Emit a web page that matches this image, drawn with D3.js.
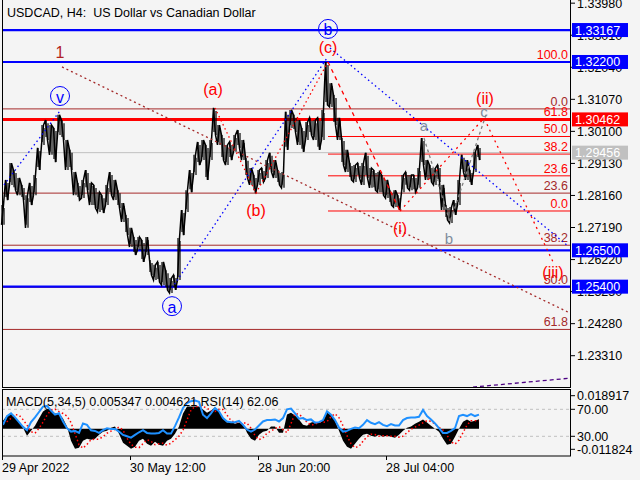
<!DOCTYPE html>
<html><head><meta charset="utf-8">
<script src="https://cdn.jsdelivr.net/npm/d3@7"></script>
<style>
body{margin:0;background:#f4f4f4}
svg{display:block}
text{font-family:"Liberation Sans",Arial,sans-serif;white-space:pre}
</style>
</head><body>
<svg id="c" width="640" height="480"></svg>
<script>
// ---------- DATA ----------
const title = "USDCAD, H4:  US Dollar vs Canadian Dollar";
const indTitle = "MACD(5,34,5) 0.005347 0.004621 RSI(14) 62.06";
// one entry every 4 H4 bars
const highs = [1.2787,1.2863,1.2914,1.2893,1.2869,1.2848,1.2817,1.2854,1.2878,1.2960,
1.3029,1.3044,1.3029,1.3020,1.3060,1.3044,1.2984,1.2954,1.2887,1.2854,
1.2863,1.2893,1.2854,1.2848,1.2826,1.2817,1.2848,1.2887,1.2863,1.2832,
1.2793,1.2757,1.2718,1.2690,1.2690,1.2681,1.2690,1.2621,1.2606,1.2615,
1.2615,1.2590,1.2566,1.2575,1.2687,1.2772,1.2832,1.2893,1.2939,1.2978,
1.2984,1.2969,1.2984,1.3081,1.3029,1.2999,1.2969,1.2978,1.2999,1.3014,
1.2984,1.2930,1.2899,1.2878,1.2893,1.2899,1.2923,1.2945,1.2923,1.2893,
1.2887,1.3069,1.3075,1.3060,1.3044,1.3020,1.3038,1.3051,1.3044,1.3051,
1.3075,1.3220,1.3156,1.3120,1.3051,1.2990,1.2954,1.2914,1.2908,1.2914,
1.2914,1.2945,1.2899,1.2893,1.2887,1.2878,1.2863,1.2832,1.2832,1.2817,
1.2878,1.2887,1.2878,1.2878,1.2899,1.2990,1.2923,1.2908,1.2899,1.2908,
1.2848,1.2787,1.2781,1.2802,1.2863,1.2939,1.2923,1.2893,1.2948,1.2969];
const lows = [1.2727,1.2802,1.2848,1.2832,1.2817,1.2802,1.2718,1.2787,1.2817,1.2893,
1.2969,1.2984,1.2939,1.2917,1.2999,1.2984,1.2893,1.2893,1.2817,1.2802,
1.2808,1.2832,1.2787,1.2778,1.2766,1.2763,1.2787,1.2817,1.2802,1.2778,
1.2736,1.2696,1.2660,1.2636,1.2651,1.2615,1.2636,1.2575,1.2560,1.2554,
1.2545,1.2530,1.2521,1.2530,1.2560,1.2696,1.2766,1.2826,1.2878,1.2908,
1.2923,1.2863,1.2923,1.2999,1.2969,1.2923,1.2908,1.2923,1.2948,1.2960,
1.2923,1.2869,1.2848,1.2823,1.2848,1.2857,1.2869,1.2887,1.2869,1.2848,
1.2839,1.2954,1.3020,1.3008,1.2969,1.2948,1.2984,1.2999,1.2984,1.2954,
1.2984,1.3090,1.3084,1.3029,1.2984,1.2908,1.2887,1.2863,1.2857,1.2869,
1.2848,1.2869,1.2839,1.2832,1.2826,1.2817,1.2808,1.2787,1.2781,1.2772,
1.2826,1.2839,1.2832,1.2826,1.2839,1.2908,1.2863,1.2857,1.2848,1.2857,
1.2772,1.2742,1.2733,1.2757,1.2787,1.2887,1.2863,1.2848,1.2887,1.2923];
const macd = [0.0046,0.0075,0.0087,0.0069,0.0035,0.0006,-0.0040,-0.0012,0.0017,0.0058,
0.0098,0.0115,0.0110,0.0087,0.0087,0.0058,0.0012,-0.0069,-0.0115,-0.0110,
-0.0069,-0.0058,-0.0063,-0.0058,-0.0035,-0.0017,-0.0012,0.0006,0.0012,-0.0029,
-0.0081,-0.0098,-0.0115,-0.0104,-0.0069,-0.0058,-0.0087,-0.0098,-0.0075,-0.0092,
-0.0098,-0.0069,-0.0058,-0.0029,0.0012,0.0087,0.0127,0.0127,0.0127,0.0127,
0.0110,0.0092,0.0104,0.0121,0.0098,0.0058,0.0035,0.0040,0.0029,0.0035,
0.0029,-0.0023,-0.0058,-0.0069,-0.0035,-0.0017,-0.0012,0.0012,0.0012,-0.0023,
-0.0023,0.0081,0.0092,0.0075,0.0052,0.0023,0.0017,0.0035,0.0040,0.0035,
0.0046,0.0092,0.0081,0.0046,-0.0012,-0.0069,-0.0104,-0.0115,-0.0087,-0.0058,
-0.0035,-0.0029,-0.0040,-0.0046,-0.0035,-0.0046,-0.0040,-0.0046,-0.0052,-0.0035,
-0.0012,0.0006,0.0012,0.0029,0.0040,0.0052,0.0035,0.0017,0.0000,-0.0017,
-0.0058,-0.0092,-0.0087,-0.0046,0.0000,0.0040,0.0052,0.0040,0.0046,0.005347];
const signal = [0.0030,0.0040,0.0060,0.0081,0.0078,0.0052,0.0020,-0.0017,-0.0026,0.0002,
0.0037,0.0078,0.0106,0.0112,0.0098,0.0087,0.0072,0.0035,-0.0028,-0.0092,
-0.0112,-0.0090,-0.0063,-0.0060,-0.0060,-0.0046,-0.0026,-0.0014,-0.0003,0.0009,
-0.0008,-0.0055,-0.0090,-0.0106,-0.0109,-0.0086,-0.0063,-0.0072,-0.0092,-0.0086,
-0.0083,-0.0095,-0.0083,-0.0063,-0.0043,-0.0008,0.0050,0.0107,0.0127,0.0127,
0.0127,0.0118,0.0101,0.0098,0.0112,0.0110,0.0078,0.0046,0.0037,0.0034,
0.0032,0.0032,0.0003,-0.0040,-0.0063,-0.0052,-0.0026,-0.0014,0.0000,0.0012,
-0.0005,-0.0023,0.0029,0.0086,0.0083,0.0063,0.0037,0.0020,0.0026,0.0037,
0.0037,0.0040,0.0069,0.0086,0.0063,0.0017,-0.0040,-0.0086,-0.0109,-0.0101,
-0.0072,-0.0046,-0.0032,-0.0034,-0.0043,-0.0040,-0.0040,-0.0043,-0.0043,-0.0049,
-0.0043,-0.0023,-0.0003,0.0009,0.0020,0.0034,0.0046,0.0043,0.0026,0.0008,
-0.0008,-0.0037,-0.0075,-0.0089,-0.0066,-0.0023,0.0020,0.0046,0.0046,0.004621];
const rsi = [47,60,64,58,51,44,39,51,58,66,74,75,68,62,64,52,42,37,38,35,
49,47,39,38,35,39,42,41,41,37,32,30,28,32,36,39,35,34,34,35,
39,34,34,45,58,72,79,82,83,81,62,57,64,72,67,57,52,51,51,53,
47,40,37,40,46,52,54,54,55,52,57,70,71,64,56,57,54,55,50,51,
54,67,62,54,43,37,38,41,43,42,47,54,50,48,51,47,45,48,46,46,
54,57,58,58,59,69,60,55,49,42,35,35,38,42,60,62,60,63,60,62.06];

const priceTicks = [1.33980,1.33010,1.32040,1.31070,1.30100,1.29130,1.28160,1.27190,1.26220,1.25250,1.24280,1.23310];
const dateLabels = ["29 Apr 2022","30 May 12:00","28 Jun 20:00","28 Jul 04:00"];
const dateBars = [0,128,256,384];

const blueLevels = [1.33167,1.32200,1.26500,1.25400];
const redLevel = 1.30462;
const lastPrice = 1.29456;

const fibLevels = [0,23.6,38.2,50,61.8,100];
const fibA = {p0:1.2769, p100:1.3220, bar:326};
const fibBLevels = [0,23.6,38.2,50,61.8];
const fibB = {p0:1.3078, p100:1.1998};

const macdLabels = [0.018917,-0.011824];
const rsiLevels = [70,30];

// wave lines: [bar, price]
const blueDot1 = [[2,1.2848],[58,1.3072]];
const blueDot2 = [[170,1.2536],[325,1.3232]];
const blueDot3 = [[328,1.3262],[566,1.2663]];
const redABC = [[213,1.3081],[254,1.2823],[326,1.3220]];
const redCI = [[326,1.3220],[398,1.2769]];
const redIII = [[398,1.2769],[482,1.3050],[551,1.2615]];
const grayABC = [[422,1.2990],[448,1.2736],[484,1.3060]];
const brownLine = [[60,1.3205],[566,1.2463]];
const purpleLine = [[471,1.2236],[568,1.2263]];

const redLabels = [["(a)",211,1.3138],["(b)",254,1.2772],["(c)",326,1.3265],["(i)",398,1.2717],["(ii)",483,1.3108],["(iii)",551,1.2584]];
const circLabels = [["v",58,1.3117],["b",326,1.3320],["a",170,1.2481]];
const grayLabels = [["a",422,1.3029],["b",447,1.2687],["c",482,1.3069]];
const oneLabel = ["1",58,1.3250];

// ---------- SCALES ----------
const svg = d3.select("#c");
const L=2, R=570, T=0, B=387;
const x = d3.scaleLinear().domain([0,568]).range([L,R]);
const y = d3.scaleLinear().domain([1.22363,1.34076]).range([B,T]);
const ym = d3.scaleLinear().domain([-0.011824,0.018917]).range([449.3,395.7]);
const yr = d3.scaleLinear().domain([30,70]).range([436.3,409.3]);
const barOf = i => 1+4*i;

const BROWN="#a52a2a", RED="#ff0000", BLUE="#0000ff";

svg.append("rect").attr("width",640).attr("height",480).attr("fill","#f4f4f4");

const main = svg.append("g");
const line = d3.line().x(d=>x(d[0])).y(d=>y(d[1]));

// fib B (brown, full width)
fibBLevels.forEach(l=>{
  const p = fibB.p0 - (fibB.p0-fibB.p100)*l/100;
  main.append("line").attr("x1",L).attr("x2",R).attr("y1",y(p)).attr("y2",y(p)).attr("stroke",BROWN).attr("stroke-width",1);
  main.append("text").attr("x",568).attr("y",y(p)-3).attr("text-anchor","end").attr("font-size",12.5).attr("fill",BROWN).text(l.toFixed(1));
});
// fib A (red, from bar)
fibLevels.forEach(l=>{
  const p = fibA.p0 + (fibA.p100-fibA.p0)*l/100;
  main.append("line").attr("x1",x(fibA.bar)).attr("x2",R).attr("y1",y(p)).attr("y2",y(p)).attr("stroke",RED).attr("stroke-width",1);
  main.append("text").attr("x",568).attr("y",y(p)-3).attr("text-anchor","end").attr("font-size",12.5).attr("fill",RED).text(l.toFixed(1));
});

// current price line
main.append("line").attr("x1",L).attr("x2",R).attr("y1",y(lastPrice)).attr("y2",y(lastPrice)).attr("stroke","#c0c0c0");
// horizontal levels
blueLevels.forEach(p=>main.append("line").attr("x1",L).attr("x2",R).attr("y1",y(p)).attr("y2",y(p)).attr("stroke",BLUE).attr("stroke-width",2.2));
main.append("line").attr("x1",L).attr("x2",R).attr("y1",y(redLevel)).attr("y2",y(redLevel)).attr("stroke",RED).attr("stroke-width",3);

// price bars: vertical high-low strokes plus a zigzag path
highs.forEach((h,i)=>{
  [-1,1].forEach(o=>main.append("line").attr("x1",x(barOf(i)+o)).attr("x2",x(barOf(i)+o))
    .attr("y1",y(h)+(o<0?0:3)).attr("y2",y(lows[i])-(o<0?3:0)).attr("stroke","#000").attr("stroke-width",1.2));
});
const pts=[];
highs.forEach((h,i)=>{
  const b=barOf(i);
  if(i%2===0){pts.push([b-1.5,lows[i]]);pts.push([b+0.5,h]);}
  else{pts.push([b-1.5,h]);pts.push([b+0.5,lows[i]]);}
});
main.append("path").attr("d",line(pts)).attr("fill","none").attr("stroke","#000").attr("stroke-width",1.5);

// wave lines
const dl=(d,c,dash,w)=>main.append("path").attr("d",line(d)).attr("fill","none").attr("stroke",c).attr("stroke-width",w||1.3).attr("stroke-dasharray",dash);
dl(brownLine,BROWN,"2,3");
dl(blueDot1,BLUE,"1.5,3");
dl(blueDot2,BLUE,"1.5,3");
dl(blueDot3,BLUE,"1.5,3");
dl(redABC,RED,"1.5,3");
dl(redCI,RED,"4,4");
dl(redIII,RED,"2,4");
dl(grayABC,"#808080","3,3");
dl(purpleLine,"#4b0082","4,3");

// labels
main.append("text").attr("x",x(oneLabel[1])).attr("y",y(oneLabel[2])).attr("text-anchor","middle").attr("dominant-baseline","central").attr("font-size",16).attr("fill","#b22222").text(oneLabel[0]);
redLabels.forEach(d=>main.append("text").attr("x",x(d[1])).attr("y",y(d[2])).attr("text-anchor","middle").attr("dominant-baseline","central").attr("font-size",16).attr("fill",RED).text(d[0]));
circLabels.forEach(d=>{
  main.append("circle").attr("cx",x(d[1])).attr("cy",y(d[2])).attr("r",9.5).attr("fill","none").attr("stroke",BLUE).attr("stroke-width",1);
  main.append("text").attr("x",x(d[1])).attr("y",y(d[2])+1).attr("text-anchor","middle").attr("dominant-baseline","central").attr("font-size",16).attr("fill",BLUE).text(d[0]);
});
grayLabels.forEach(d=>main.append("text").attr("x",x(d[1])).attr("y",y(d[2])).attr("text-anchor","middle").attr("dominant-baseline","central").attr("font-size",15).attr("fill","#7f8c9c").text(d[0]));

// title
svg.append("text").attr("x",7).attr("y",16.5).attr("font-size",12.5).attr("fill","#000").text(title);

// frame main
svg.append("rect").attr("x",L+0.5).attr("y",-1).attr("width",R-L).attr("height",B+1.5).attr("fill","none").attr("stroke","#000");

// price axis
priceTicks.forEach(p=>{
  svg.append("line").attr("x1",R).attr("x2",R+5).attr("y1",y(p)).attr("y2",y(p)).attr("stroke","#000");
  svg.append("text").attr("x",R+7).attr("y",y(p)+4.5).attr("font-size",12.5).attr("fill","#000").text(p.toFixed(5));
});
const tag=(p,bg)=>{
  svg.append("rect").attr("x",R+2).attr("y",y(p)-7).attr("width",56).attr("height",14).attr("fill",bg);
  svg.append("text").attr("x",R+5).attr("y",y(p)+4.5).attr("font-size",12.5).attr("fill","#fff").text(p.toFixed(5));
};
blueLevels.forEach(p=>tag(p,BLUE));
tag(redLevel,RED);
tag(lastPrice,"#c0c0c0");

// indicator panel
const ind = svg.append("g");
rsiLevels.forEach(r=>ind.append("line").attr("x1",L).attr("x2",R).attr("y1",yr(r)).attr("y2",yr(r)).attr("stroke","#c0c0c0").attr("stroke-dasharray","3,3"));
const area = d3.area().x((d,i)=>x(barOf(i))).y0(ym(0)).y1(d=>ym(d));
ind.append("path").attr("d",area(macd)).attr("fill","#000");
ind.append("path").attr("d",d3.line().x((d,i)=>x(barOf(i))).y(d=>ym(d))(signal)).attr("fill","none").attr("stroke",RED).attr("stroke-width",1.5).attr("stroke-dasharray","1.5,2.5");
ind.append("path").attr("d",d3.line().x((d,i)=>x(barOf(i))).y(d=>yr(d))(rsi)).attr("fill","none").attr("stroke","#1e90ff").attr("stroke-width",2);
ind.append("text").attr("x",6).attr("y",405.5).attr("font-size",12.5).attr("fill","#000").text(indTitle);
ind.append("rect").attr("x",L+0.5).attr("y",389.5).attr("width",R-L).attr("height",66.5).attr("fill","none").attr("stroke","#000");
macdLabels.forEach(v=>{
  ind.append("line").attr("x1",R).attr("x2",R+5).attr("y1",ym(v)).attr("y2",ym(v)).attr("stroke","#000");
  ind.append("text").attr("x",R+7).attr("y",ym(v)+4.5).attr("font-size",12.5).attr("fill","#000").text(v.toFixed(6));
});
rsiLevels.forEach(r=>{
  ind.append("line").attr("x1",R).attr("x2",R+5).attr("y1",yr(r)).attr("y2",yr(r)).attr("stroke","#000");
  ind.append("text").attr("x",R+7).attr("y",yr(r)+4.5).attr("font-size",12.5).attr("fill","#000").text(r.toFixed(2));
});

// x axis
dateBars.forEach((b,i)=>{
  svg.append("line").attr("x1",x(b)+0.5).attr("x2",x(b)+0.5).attr("y1",456).attr("y2",460).attr("stroke","#000");
  svg.append("text").attr("x",x(b)).attr("y",472).attr("font-size",12.5).attr("fill","#000").text(dateLabels[i]);
});
</script>
</body></html>
